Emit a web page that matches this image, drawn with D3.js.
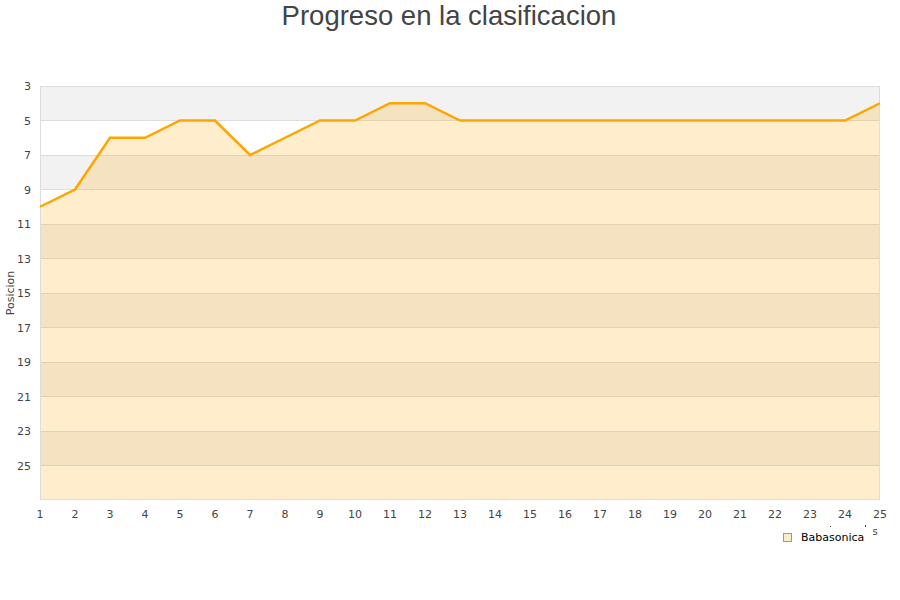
<!DOCTYPE html>
<html><head><meta charset="utf-8">
<script src="https://cdn.jsdelivr.net/npm/d3@7"></script>
<style>body{margin:0;background:#fff;font-family:"DejaVu Sans",sans-serif;}</style>
</head><body>
<svg id="c" width="900" height="600"></svg>
<script>
const rounds = [1,2,3,4,5,6,7,8,9,10,11,12,13,14,15,16,17,18,19,20,21,22,23,24,25];
const positions = [10,9,6,6,5,5,7,6,5,5,4,4,5,5,5,5,5,5,5,5,5,5,5,5,4];
const yTicks = [3,5,7,9,11,13,15,17,19,21,23,25];
const seriesName = "Babasonica";
const titleText = "Progreso en la clasificacion";
const yTitle = "Posicion";

const svg = d3.select("#c");
const L=40,R=880,T=86,B=500;
const x = d3.scaleLinear().domain([1,25]).range([L,R]);
const y = d3.scaleLinear().domain([3,27]).range([T,B]);

// bands
const bands = d3.range(3,27,2);
svg.append("g").selectAll("rect").data(bands).join("rect")
  .attr("x",L).attr("width",R-L)
  .attr("y",d=>y(d)).attr("height",d=>y(d+2)-y(d))
  .attr("fill",(d,i)=>i%2===0?"#f2f2f2":"#ffffff");
// grid
svg.append("g").selectAll("line").data(yTicks).join("line")
  .attr("x1",L).attr("x2",R).attr("y1",d=>y(d)).attr("y2",d=>y(d))
  .attr("stroke","#dddddd").attr("stroke-width",1).attr("shape-rendering","crispEdges");

// area
const area = d3.area().x((d,i)=>x(rounds[i])).y0(y(27)).y1(d=>y(d));
svg.append("path").datum(positions).attr("d",area).attr("fill","rgba(255,165,0,0.2)");
// border
svg.append("rect").attr("x",L+0.5).attr("y",T+0.5).attr("width",R-L-1).attr("height",B-T-1)
  .attr("fill","none").attr("stroke","#dddddd").attr("shape-rendering","crispEdges");
const line = d3.line().x((d,i)=>x(rounds[i])).y(d=>y(d));
svg.append("path").datum(positions).attr("d",line).attr("fill","none")
  .attr("stroke","#ffa500").attr("stroke-width",2.5).attr("stroke-linejoin","miter");

// y labels
svg.append("g").selectAll("text").data(yTicks).join("text")
  .attr("x",31).attr("y",d=>y(d)+4).attr("text-anchor","end")
  .attr("font-size",11).attr("fill","#444").text(d=>d);
// x labels
svg.append("g").selectAll("text").data(rounds).join("text")
  .attr("x",d=>x(d)).attr("y",518).attr("text-anchor","middle")
  .attr("font-size",11).attr("fill","#444").text(d=>d);

svg.append("text").attr("x",449).attr("y",25).attr("text-anchor","middle")
  .attr("font-family","Liberation Sans, Arial, sans-serif")
  .attr("font-size",27.5).attr("fill","#444").text(titleText);
svg.append("text").attr("transform","translate(14,293) rotate(-90)").attr("text-anchor","middle")
  .attr("font-size",11).attr("fill","#444").text(yTitle);

// clipped axis title fragments
svg.append("text").attr("x",875).attr("y",535).attr("text-anchor","middle")
  .attr("font-size",10).attr("fill","#444").text("s");
svg.append("rect").attr("x",830).attr("y",526).attr("width",1).attr("height",1).attr("fill","#444");
svg.append("rect").attr("x",865).attr("y",525).attr("width",1).attr("height",2).attr("fill","#444");

// legend
svg.append("rect").attr("x",783.5).attr("y",533.5).attr("width",8).attr("height",8)
  .attr("fill","#fdecca").attr("stroke","#999");
svg.append("text").attr("x",801).attr("y",541).attr("font-size",11).attr("fill","#000").text(seriesName);
</script>
</body></html>
